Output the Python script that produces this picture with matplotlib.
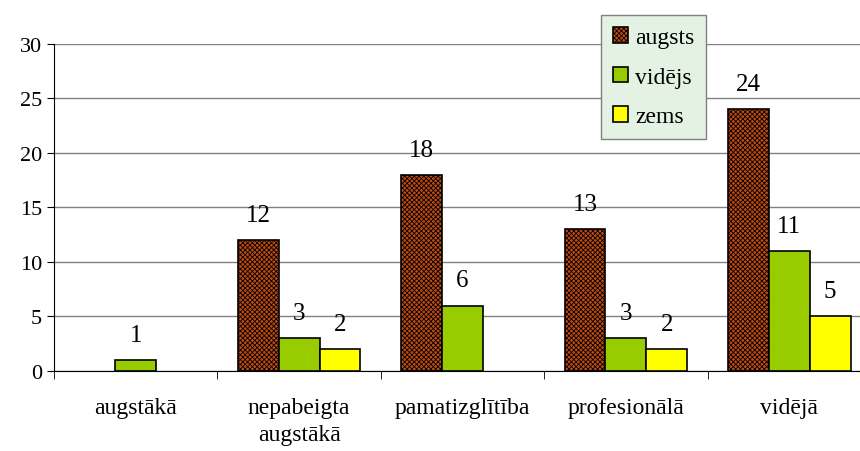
import numpy as np
import matplotlib.pyplot as plt

plt.rcParams['font.family'] = ['Liberation Serif', 'DejaVu Serif']
plt.rcParams['hatch.linewidth'] = 0.6

kategorijas = ["augstākā", "nepabeigta\naugstākā", "pamatizglītība", "profesionālā", "vidējā"]
augsts = [np.nan, 12, 18, 13, 24]
videjs = [1, 3, 6, 3, 11]
zems = [np.nan, 2, np.nan, 2, 5]

fig = plt.figure(figsize=(8.6, 4.52), dpi=100)
ax = fig.add_axes([0.0628, 0.177, 0.95, 0.7235])

x = np.arange(len(kategorijas))
w = 0.25
serijas = [
    ("augsts", augsts, "#c24a10", "xxxxxxx"),
    ("vidējs", videjs, "#99cc00", None),
    ("zems", zems, "#ffff00", None),
]
for i, (nos, vert, krasa, hatch) in enumerate(serijas):
    pos = x + (i - 1) * w
    ax.bar(pos, vert, width=w, color=krasa, edgecolor="black", linewidth=1.2,
           hatch=hatch, label=nos, zorder=3)
    for p, v in zip(pos, vert):
        if not np.isnan(v):
            ax.text(p, v + 1.3, str(int(v)), ha="center", va="bottom", fontsize=18)

ax.set_xlim(-0.5, len(kategorijas) - 0.5)
ax.set_ylim(0, 30)
ax.set_yticks(range(0, 31, 5))
ax.yaxis.grid(True, color="#808080", linewidth=1)
ax.set_axisbelow(True)
ax.set_xticks(x)
ax.set_xticklabels(kategorijas, fontsize=17, linespacing=1.35)
ax.set_xticks(np.arange(len(kategorijas) + 1) - 0.5, minor=True)
ax.tick_params(axis="x", which="major", length=0, pad=19)
ax.tick_params(axis="x", which="minor", length=6, color="black")
ax.tick_params(axis="y", labelsize=16, length=5, direction="out")
for s in ["top", "right"]:
    ax.spines[s].set_visible(False)
ax.spines["left"].set_color("black")
ax.spines["bottom"].set_color("black")

leg = fig.legend(loc="upper left", bbox_to_anchor=(0.685, 0.99), fontsize=17,
                 frameon=True, fancybox=False, handlelength=0.65, handleheight=0.65,
                 labelspacing=0.78, borderpad=0.5, handletextpad=0.3)
leg.get_frame().set_facecolor("#e4f2e4")
leg.get_frame().set_edgecolor("#808080")
leg.get_frame().set_alpha(1)

fig.savefig("out.png", dpi=100)
